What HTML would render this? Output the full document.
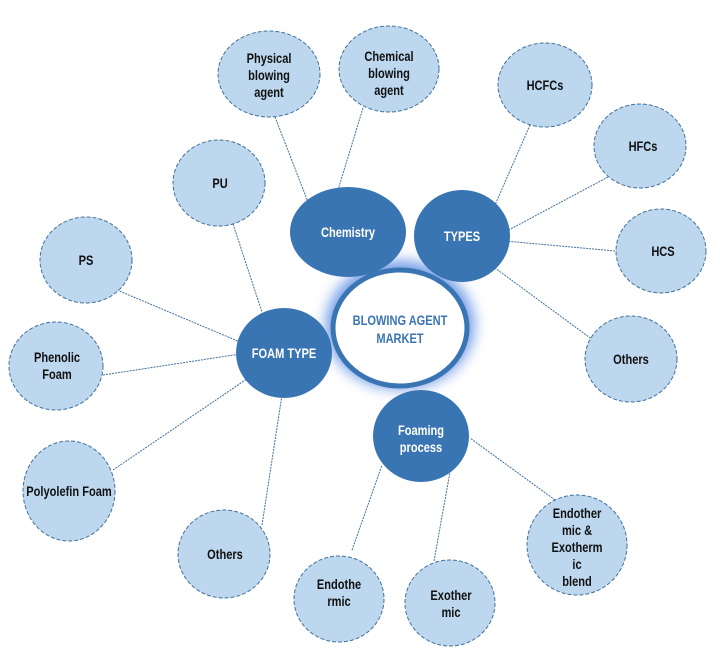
<!DOCTYPE html>
<html><head><meta charset="utf-8"><style>
html,body{margin:0;padding:0;background:#fff;}
svg{display:block}
text{font-family:"Liberation Sans Narrow","Liberation Sans",sans-serif;font-weight:bold;font-size:13.5px;text-anchor:middle}
.l{fill:#bdd7ee;stroke:#41719c;stroke-width:1;stroke-dasharray:4 2}
.d{fill:#3a75b3}
.ln{stroke:#41719c;stroke-width:1;stroke-dasharray:2 1}
.w{fill:#fff}
.k{fill:#111}
</style></head><body>
<svg width="720" height="658" viewBox="0 0 720 658">
<defs><filter id="g" x="-50%" y="-50%" width="200%" height="200%"><feGaussianBlur stdDeviation="7"/></filter></defs>
<g class="ln">
<line x1="275" y1="117" x2="308" y2="202"/>
<line x1="363" y1="108" x2="338" y2="190"/>
<line x1="530" y1="125" x2="495" y2="205"/>
<line x1="608" y1="177" x2="505" y2="232"/>
<line x1="615" y1="251" x2="505" y2="241"/>
<line x1="593" y1="340" x2="495" y2="268"/>
<line x1="233" y1="224" x2="262" y2="312"/>
<line x1="117" y1="290" x2="240" y2="342"/>
<line x1="103" y1="375" x2="240" y2="354"/>
<line x1="113" y1="470" x2="263" y2="368"/>
<line x1="262" y1="525" x2="282" y2="395"/>
<line x1="352" y1="550" x2="382" y2="465"/>
<line x1="434" y1="561" x2="450" y2="472"/>
<line x1="555" y1="500" x2="470" y2="438"/>
</g>
<ellipse class="l" cx="269" cy="74" rx="51" ry="43"/>
<ellipse class="l" cx="389" cy="69" rx="50" ry="43"/>
<ellipse class="l" cx="545" cy="85" rx="47" ry="42"/>
<ellipse class="l" cx="640" cy="146" rx="46" ry="42"/>
<ellipse class="l" cx="661" cy="251" rx="45" ry="42"/>
<ellipse class="l" cx="631" cy="359" rx="46" ry="43"/>
<ellipse class="l" cx="219" cy="183" rx="46" ry="43"/>
<ellipse class="l" cx="86" cy="260" rx="46" ry="43"/>
<ellipse class="l" cx="56" cy="366" rx="47" ry="44"/>
<ellipse class="l" cx="69" cy="491" rx="46" ry="50"/>
<ellipse class="l" cx="224" cy="554" rx="46" ry="44"/>
<ellipse class="l" cx="339" cy="599" rx="45" ry="43"/>
<ellipse class="l" cx="450" cy="603" rx="45" ry="43"/>
<ellipse class="l" cx="577" cy="545" rx="50" ry="50"/>
<ellipse cx="400" cy="325" rx="74" ry="64" fill="#4a7fe0" filter="url(#g)" opacity="0.8"/>
<ellipse class="d" cx="348" cy="232" rx="58" ry="45"/>
<ellipse class="d" cx="462" cy="236" rx="48" ry="46"/>
<ellipse class="d" cx="284" cy="353" rx="48" ry="45"/>
<ellipse class="d" cx="421" cy="436" rx="48" ry="46"/>
<ellipse cx="400" cy="328" rx="67" ry="58" fill="#fff" stroke="#3a75b3" stroke-width="5"/>
<text transform="translate(400,325) scale(0.82,1)" fill="#3a75b3" font-size="15">BLOWING AGENT</text>
<text transform="translate(400,343) scale(0.82,1)" fill="#3a75b3" font-size="15">MARKET</text>
<g class="w">
<text transform="translate(348,237) scale(0.82,1)">Chemistry</text>
<text transform="translate(462,241) scale(0.82,1)">TYPES</text>
<text transform="translate(284,358) scale(0.82,1)">FOAM TYPE</text>
<text transform="translate(421,435) scale(0.82,1)">Foaming</text>
<text transform="translate(421,452) scale(0.82,1)">process</text>
</g>
<g class="k">
<text transform="translate(269,63) scale(0.82,1)">Physical</text><text transform="translate(269,80) scale(0.82,1)">blowing</text><text transform="translate(269,97) scale(0.82,1)">agent</text>
<text transform="translate(389,61) scale(0.82,1)">Chemical</text><text transform="translate(389,78) scale(0.82,1)">blowing</text><text transform="translate(389,95) scale(0.82,1)">agent</text>
<text transform="translate(545,90) scale(0.82,1)">HCFCs</text>
<text transform="translate(643,151) scale(0.82,1)">HFCs</text>
<text transform="translate(663,256) scale(0.82,1)">HCS</text>
<text transform="translate(631,364) scale(0.82,1)">Others</text>
<text transform="translate(220,188) scale(0.82,1)">PU</text>
<text transform="translate(86,265) scale(0.82,1)">PS</text>
<text transform="translate(57,362) scale(0.82,1)">Phenolic</text><text transform="translate(57,379) scale(0.82,1)">Foam</text>
<text transform="translate(69,496) scale(0.82,1)">Polyolefin Foam</text>
<text transform="translate(225,559) scale(0.82,1)">Others</text>
<text transform="translate(339,589) scale(0.82,1)">Endothe</text><text transform="translate(339,606) scale(0.82,1)">rmic</text>
<text transform="translate(451,600) scale(0.82,1)">Exother</text><text transform="translate(451,617) scale(0.82,1)">mic</text>
<text transform="translate(577,518) scale(0.82,1)">Endother</text><text transform="translate(577,535) scale(0.82,1)">mic &amp;</text><text transform="translate(577,552) scale(0.82,1)">Exotherm</text><text transform="translate(577,569) scale(0.82,1)">ic</text><text transform="translate(577,586) scale(0.82,1)">blend</text>
</g>
</svg>
</body></html>
